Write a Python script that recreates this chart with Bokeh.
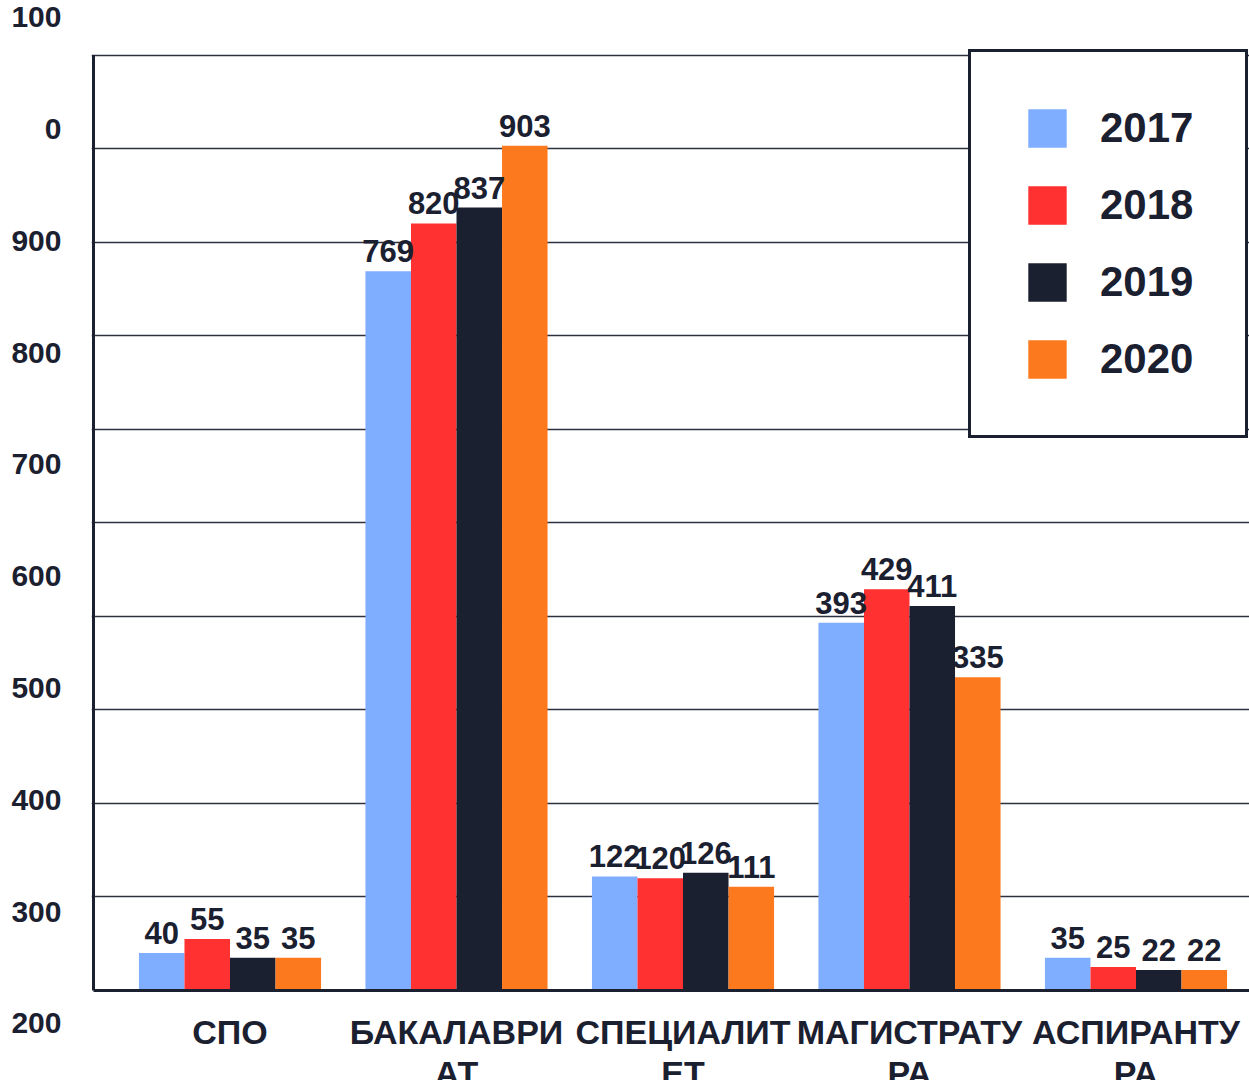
from bokeh.plotting import figure
from bokeh.models import (Range1d, LinearAxis, FixedTicker, Grid, Legend, LegendItem,
                          ColumnDataSource)
from bokeh.transform import dodge
from bokeh.core.properties import value
from bokeh.embed import file_html
from bokeh.resources import INLINE

# ---------------- data ----------------
categories = ["СПО", "БАКАЛАВРИАТ", "СПЕЦИАЛИТЕТ", "МАГИСТРАТУРА", "АСПИРАНТУРА"]
category_labels = ["СПО", "БАКАЛАВРИ\nАТ", "СПЕЦИАЛИТ\nЕТ", "МАГИСТРАТУ\nРА", "АСПИРАНТУ\nРА"]
years = ["2017", "2018", "2019", "2020"]
v2017 = [40, 769, 122, 393, 35]
v2018 = [55, 820, 120, 429, 25]
v2019 = [35, 837, 126, 411, 22]
v2020 = [35, 903, 111, 335, 22]
y_tick_labels = ["100", "0", "900", "800", "700", "600", "500", "400", "300", "200"]
grid_values = [100, 200, 300, 400, 500, 600, 700, 800, 900, 1000]

# ---------------- style ----------------
colors = ["#7fadff", "#ff3131", "#1b2030", "#fd791e"]
TXT = "#1b2030"
FONT = "Liberation Sans"

series = {"2017": v2017, "2018": v2018, "2019": v2019, "2020": v2020}
data = dict(x=list(range(len(categories))), cat=categories, label=category_labels)
for yr in years:
    data["v" + yr] = series[yr]
    data["t" + yr] = [str(v) for v in series[yr]]
src = ColumnDataSource(data)

W, H = 1249, 1080
px_per_slot = 226.5
x_start = -0.6115
x_end = 4.5011
x_left_line = x_start + 2 / px_per_slot

p = figure(width=W, height=H, output_backend="svg", toolbar_location=None, tools="",
           x_axis_location=None, y_axis_location=None,
           x_range=Range1d(x_start, x_end), y_range=Range1d(-96.2, 1058.3),
           min_border_left=91, min_border_right=0, min_border_top=0, min_border_bottom=0,
           outline_line_color=None, background_fill_color="white", border_fill_color="white")
p.xgrid.visible = False
p.ygrid.visible = False

# horizontal grid lines
p.add_layout(Grid(dimension=1, ticker=FixedTicker(ticks=grid_values),
                  grid_line_color="#2d313d", grid_line_width=1.6))

# y tick labels on a label axis
p.extra_y_ranges = {"lab": Range1d(start=9.5107, end=-0.1494)}
ax = LinearAxis(y_range_name="lab",
                ticker=FixedTicker(ticks=list(range(len(y_tick_labels)))),
                major_label_overrides={i: s for i, s in enumerate(y_tick_labels)},
                axis_line_color=None, major_tick_line_color=None, minor_tick_line_color=None,
                major_tick_in=0, major_tick_out=0, minor_tick_in=0, minor_tick_out=0,
                major_label_standoff=30, major_label_text_font=FONT,
                major_label_text_font_style="bold", major_label_text_font_size="30px",
                major_label_text_color=TXT)
p.add_layout(ax, "left")

bar_w = 0.201
offsets = [-1.5 * bar_w, -0.5 * bar_w, 0.5 * bar_w, 1.5 * bar_w]

renderers = []
for yr, col, off in zip(years, colors, offsets):
    r = p.vbar(x=dodge("x", off), top="v" + yr, bottom=0, width=bar_w, source=src,
               fill_color=col, line_color=None)
    renderers.append(r)

# frame lines (left + bottom)
ymax = max(grid_values)
p.segment(x0=[x_left_line, x_left_line], y0=[0, 0], x1=[x_left_line, x_end], y1=[ymax, 0],
          line_width=3, line_color=TXT)

for yr, off in zip(years, offsets):
    p.text(x=dodge("x", off), y="v" + yr, text="t" + yr, source=src,
           text_align="center", text_baseline="alphabetic", y_offset=-20,
           text_font=value(FONT), text_font_style="bold", text_font_size="31px",
           text_color=TXT)

# category labels
p.text(x="x", y=-24, text="label", source=src, text_align="center", text_baseline="top",
       text_font=value(FONT), text_font_style="bold", text_font_size="34px",
       text_line_height=1.07, text_color=TXT)

legend = Legend(items=[LegendItem(label=yr, renderers=[r]) for yr, r in zip(years, renderers)],
                location=(877, 642), orientation="vertical", glyph_width=48, glyph_height=48,
                label_standoff=29, spacing=29, padding=52, margin=0,
                label_text_font=FONT, label_text_font_style="bold", label_text_font_size="42px",
                label_text_color=TXT, border_line_color=TXT, border_line_width=3,
                border_line_alpha=1.0,
                background_fill_color="white", background_fill_alpha=1.0)
p.add_layout(legend, "center")

open("out.html", "w").write(file_html(p, INLINE))
